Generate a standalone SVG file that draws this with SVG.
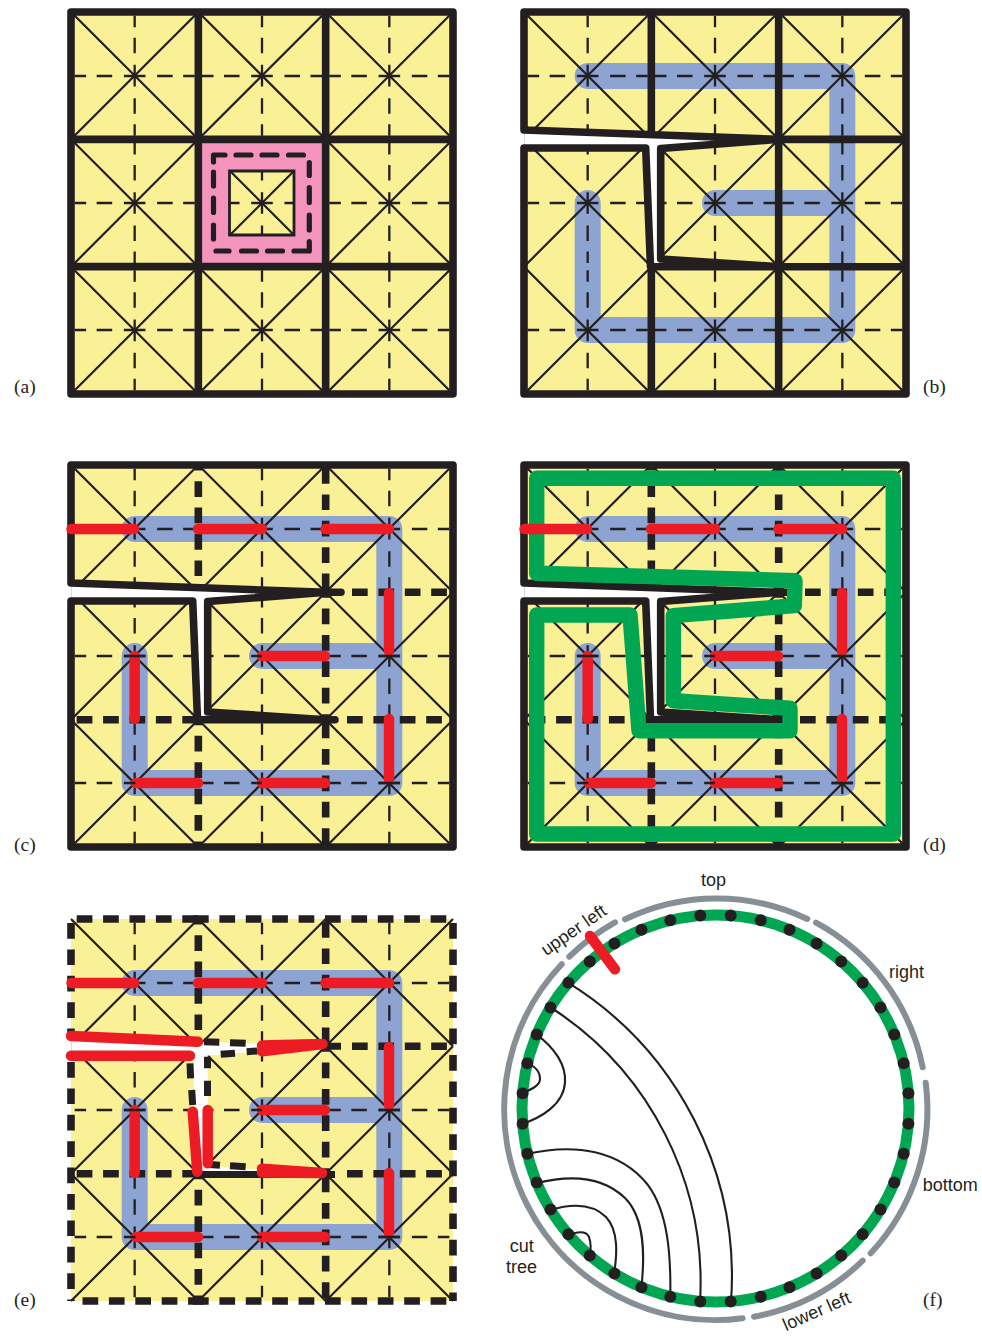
<svg xmlns="http://www.w3.org/2000/svg" width="982" height="1336" viewBox="0 0 982 1336">
<style>
.yellow{fill:#FAF096}
.blue{fill:none;stroke:#8DA3D1;stroke-width:26;stroke-linecap:round;stroke-linejoin:round}
.thin{fill:none;stroke:#231F20;stroke-width:2.2}
.tdash{fill:none;stroke:#231F20;stroke-width:2.3;stroke-dasharray:11.5 10.5 15.5 11.7 21.6 11.7 15.5 10.5 11.5 7.33;stroke-dashoffset:123.66}
.cut{fill:#fff}
.thick{fill:none;stroke:#231F20;stroke-width:7.6;stroke-linejoin:round;stroke-linecap:round}
.td{fill:none;stroke:#231F20;stroke-width:7.6;stroke-dasharray:15.7 10.7}
.red{fill:none;stroke:#ED1C24;stroke-width:10.5;stroke-linecap:round}
.green{fill:none;stroke:#00A651;stroke-width:15.4;stroke-linejoin:round}
.gray{fill:none;stroke:#868F96;stroke-width:6;stroke-linecap:round}
.chord{fill:none;stroke:#231F20;stroke-width:2.1}
.dot{fill:#231F20}
.ov{fill:none;stroke:#231F20;stroke-width:2.3}
.cap{font-family:"Liberation Serif",serif;font-size:19.5px;fill:#231F20}
.lab{font-family:"Liberation Sans",Arial,sans-serif;font-size:18px;fill:#231F20}
</style>
<defs>
<g id="yellow"><rect class="yellow" x="71" y="12" width="382" height="382"/></g>
<path id="bluepath" class="blue" d="M134.67 203V330H389.33V76H134.67M262 203H389.33"/>
<g id="mesh">
<path class="thin" d="M71 12L198.33 139.33M198.33 12L71 139.33M198.33 12L325.67 139.33M325.67 12L198.33 139.33M325.67 12L453 139.33M453 12L325.67 139.33M71 139.33L198.33 266.67M198.33 139.33L71 266.67M198.33 139.33L325.67 266.67M325.67 139.33L198.33 266.67M325.67 139.33L453 266.67M453 139.33L325.67 266.67M71 266.67L198.33 394M198.33 266.67L71 394M198.33 266.67L325.67 394M325.67 266.67L198.33 394M325.67 266.67L453 394M453 266.67L325.67 394"/>
<path class="tdash" d="M134.67 12V394"/>
<path class="tdash" d="M262 12V394"/>
<path class="tdash" d="M389.33 12V394"/>
<path class="tdash" d="M71 76H453"/>
<path class="tdash" d="M71 203H453"/>
<path class="tdash" d="M71 330H453"/>
</g>
<g id="cutwhite">
<polygon class="cut" points="64,129.8 325.7,139.3 207.7,148.5 207.7,259 325.7,266.7 197.5,266.7 192.7,148 64,148"/>
<path d="M71.5 134V145" fill="none" stroke="#ddd" stroke-width="1"/>
</g>
<g id="innerdash">
<path class="td" d="M76.7 266.7H197"/>
<path class="td" d="M347 266.7H453"/>
<path class="td" d="M352 139.3H453"/>
<path class="td" style="stroke-dashoffset:10.2" d="M198.33 12V132"/>
<path class="td" style="stroke-dashoffset:10.2" d="M198.33 266.67V394"/>
<path class="td" style="stroke-dashoffset:23.4" d="M325.67 12V139.33"/>
<path class="td" style="stroke-dashoffset:10.2" d="M325.67 139.33V266.67"/>
<path class="td" style="stroke-dashoffset:23.4" d="M325.67 266.67V394"/>
</g>
<g id="thickcd">
<path class="thick" d="M71 130V12H453V394H71V148H192.7L197.5 266.7H335M71 130L325.7 139.3H341M207.7 148.5L325.7 139.3M207.7 148.5V259L325.7 266.7"/>
<use href="#innerdash"/>
</g>
<g id="redset">
<path class="red" d="M71.5 76H134M198 76H262M325.5 76H389M389 140V198M389 266V326M262 203H325M134.67 203V266M136 330H198M262 330H325"/>
<path class="ov" d="M123.9 203H145.4M378.5 203H400M378.5 330H400M130 330H135.5M257 203H262M257 330H262"/>
</g>
</defs>

<g id="panel-a">
<use href="#yellow"/>
<use href="#mesh"/>
<path fill="#F494BD" fill-rule="evenodd" d="M198 139H326V267H198ZM229.5 171V235H294V171Z"/>
<path class="thin" style="stroke-width:2.8" d="M229.5 171V235H294V171Z"/>
<path fill="none" stroke="#231F20" stroke-width="5.2" stroke-linecap="round" stroke-linejoin="round" d="M213.5 162V155H225M236 155H251M262 155H277M288.5 155H303.5M309.3 162.5V175.5M309.3 187.5V202.5M309.3 215V230M309.3 241.5V251H294M267.5 251H282.5M241.5 251H256.5M216 251H229M213.5 225V239M213.5 198V212.5M213.5 172V186"/>
<path class="thick" d="M71 12H453V394H71ZM198.33 12V394M325.67 12V394M71 139.33H453M71 266.67H453"/>
</g>

<g id="panel-b" transform="translate(453 0)">
<use href="#yellow"/>
<use href="#bluepath"/>
<use href="#mesh"/>
<use href="#cutwhite"/>
<path class="thick" d="M71 130V12H453V394H71V148H192.7L197.5 266.7H453M71 130L325.7 139.3M207.7 148.5L325.7 139.3M207.7 148.5V259L325.7 266.7M198.33 12V134M325.67 12V394M325.67 139.33H453M198.33 266.67V394"/>
</g>

<g id="panel-c" transform="translate(0 453)">
<use href="#yellow"/>
<use href="#bluepath"/>
<use href="#mesh"/>
<use href="#cutwhite"/>
<use href="#thickcd"/>
<use href="#redset"/>
</g>

<g id="panel-d" transform="translate(453 453)">
<use href="#yellow"/>
<use href="#bluepath"/>
<use href="#mesh"/>
<use href="#cutwhite"/>
<use href="#thickcd"/>
<path class="green" d="M83.7 25.3H440.3V381H83.7V162H177L186 277.7H337V255.3L220.3 247.7V162.7L341.3 152.7L342 127.7L83.7 120.3Z"/>
<use href="#redset"/>
</g>

<g id="panel-e" transform="translate(0 907)">
<use href="#yellow"/>
<use href="#bluepath"/>
<use href="#mesh"/>
<use href="#cutwhite"/>
<path class="td" d="M76.7 12H198"/>
<path class="td" d="M193 12H315"/>
<path class="td" d="M325 12H447"/>
<path class="td" d="M82.5 394H204"/>
<path class="td" d="M193 394H315"/>
<path class="td" d="M325 394H447"/>
<path class="td" d="M71 16V128"/>
<path class="td" d="M71 155V394"/>
<path class="td" d="M453 16V394"/>
<use href="#innerdash"/>
<path fill="none" stroke="#231F20" stroke-width="7" d="M204 134.7L219.3 135.2M230 135.7L245.7 136.3M220.7 147.2L235 146.2M246.7 144.8L257.3 144M190 156.3L190.6 171.3M191.7 183L192.7 198M207.5 149.7V161.3M207.5 173.7V189M209.3 257.6L220 258.2M230 258.7L245.7 259.7M198 267.4H335M325.7 139.3H341"/>
<use href="#redset"/>
<path class="red" d="M71 129L198 134.7M71 148.7H190M192.7 204.7L197.3 264.7M207.7 203V256.3M262 138.5L322.5 137M262 144.2L322.5 137M262 261.8L322 266M262 265.5L322 266"/>
</g>

<g id="panel-f">
<circle cx="715.5" cy="1108.5" r="193.5" fill="none" stroke="#00A651" stroke-width="11"/>
<g id="cut-tree">
<path class="gray" d="M742.7 1318.3A211 211 0 0 1 561.7 964.3"/>
<path class="gray" d="M569.3 956.7A211 211 0 0 1 615 922.3"/>
<path class="gray" d="M625 919.3A211 211 0 0 1 807.3 919"/>
<path class="gray" d="M816 922.7A211 211 0 0 1 922.7 1067.3"/>
<path class="gray" d="M925.7 1082.7A211 211 0 0 1 870.7 1253.3"/>
<path class="gray" d="M862.7 1260.7A211 211 0 0 1 754 1316.7"/>
</g>
<g id="chords">
<path class="chord" d="M568 982.7A346 346 0 0 1 731 1302"/>
<path class="chord" d="M550 1007A327 327 0 0 1 700 1302"/>
<path class="chord" d="M536.3 1034.3C555 1048 566 1065 565 1082C564 1105 540 1118 522 1124"/>
<path class="chord" d="M526.7 1063.3C535 1066 540 1072 540 1079C540 1086 530 1090 522 1093"/>
<path class="chord" d="M526.7 1154C575 1143 620 1150 648 1185C668 1212 671 1255 670.3 1297.3"/>
<path class="chord" d="M536.3 1183.3C565 1176 600 1174 625 1198C645 1218 645 1255 641.3 1288.3"/>
<path class="chord" d="M550 1210C570 1204 592 1203 606 1217C619 1231 617 1255 614 1274.3"/>
<path class="chord" d="M568 1235C576 1232 586 1230 589 1237C591 1243 591 1250 589.7 1256"/>
</g>
<g id="dots" transform="translate(715.5 1108.5)">
<circle class="dot" r="6" cx="15.2" cy="-192.9"/><circle class="dot" r="6" cx="45.2" cy="-188.2"/><circle class="dot" r="6" cx="74" cy="-178.8"/><circle class="dot" r="6" cx="101.1" cy="-165"/><circle class="dot" r="6" cx="125.7" cy="-147.1"/><circle class="dot" r="6" cx="147.1" cy="-125.7"/><circle class="dot" r="6" cx="165" cy="-101.1"/><circle class="dot" r="6" cx="178.8" cy="-74"/><circle class="dot" r="6" cx="188.2" cy="-45.2"/><circle class="dot" r="6" cx="192.9" cy="-15.2"/>
<circle class="dot" r="6" cx="192.9" cy="15.2"/><circle class="dot" r="6" cx="188.2" cy="45.2"/><circle class="dot" r="6" cx="178.8" cy="74"/><circle class="dot" r="6" cx="165" cy="101.1"/><circle class="dot" r="6" cx="147.1" cy="125.7"/><circle class="dot" r="6" cx="125.7" cy="147.1"/><circle class="dot" r="6" cx="101.1" cy="165"/><circle class="dot" r="6" cx="74" cy="178.8"/><circle class="dot" r="6" cx="45.2" cy="188.2"/><circle class="dot" r="6" cx="15.2" cy="192.9"/>
<circle class="dot" r="6" cx="-15.2" cy="192.9"/><circle class="dot" r="6" cx="-45.2" cy="188.2"/><circle class="dot" r="6" cx="-74" cy="178.8"/><circle class="dot" r="6" cx="-101.1" cy="165"/><circle class="dot" r="6" cx="-125.7" cy="147.1"/><circle class="dot" r="6" cx="-147.1" cy="125.7"/><circle class="dot" r="6" cx="-165" cy="101.1"/><circle class="dot" r="6" cx="-178.8" cy="74"/><circle class="dot" r="6" cx="-188.2" cy="45.2"/><circle class="dot" r="6" cx="-192.9" cy="15.2"/>
<circle class="dot" r="6" cx="-192.9" cy="-15.2"/><circle class="dot" r="6" cx="-188.2" cy="-45.2"/><circle class="dot" r="6" cx="-178.8" cy="-74"/><circle class="dot" r="6" cx="-165" cy="-101.1"/><circle class="dot" r="6" cx="-147.1" cy="-125.7"/><circle class="dot" r="6" cx="-125.7" cy="-147.1"/><circle class="dot" r="6" cx="-101.1" cy="-165"/><circle class="dot" r="6" cx="-74" cy="-178.8"/><circle class="dot" r="6" cx="-45.2" cy="-188.2"/><circle class="dot" r="6" cx="-15.2" cy="-192.9"/>
</g>
<path class="red" d="M590 936L615 969.3"/>
<text class="lab" x="701" y="886">top</text>
<text class="lab" x="889" y="977.7">right</text>
<text class="lab" x="922.7" y="1190.7">bottom</text>
<text class="lab" x="521.7" y="1252.3" text-anchor="middle">cut</text>
<text class="lab" x="521.5" y="1272.7" text-anchor="middle">tree</text>
<text class="lab" text-anchor="middle" transform="translate(577 935) rotate(-34.7)">upper left</text>
<text class="lab" text-anchor="middle" transform="translate(819 1316.7) rotate(-23.7)">lower left</text>
</g>

<g id="captions">
<text class="cap" x="14" y="393">(a)</text>
<text class="cap" x="923" y="393">(b)</text>
<text class="cap" x="14" y="851">(c)</text>
<text class="cap" x="923" y="851">(d)</text>
<text class="cap" x="14" y="1306">(e)</text>
<text class="cap" x="923" y="1306">(f)</text>
</g>
</svg>
